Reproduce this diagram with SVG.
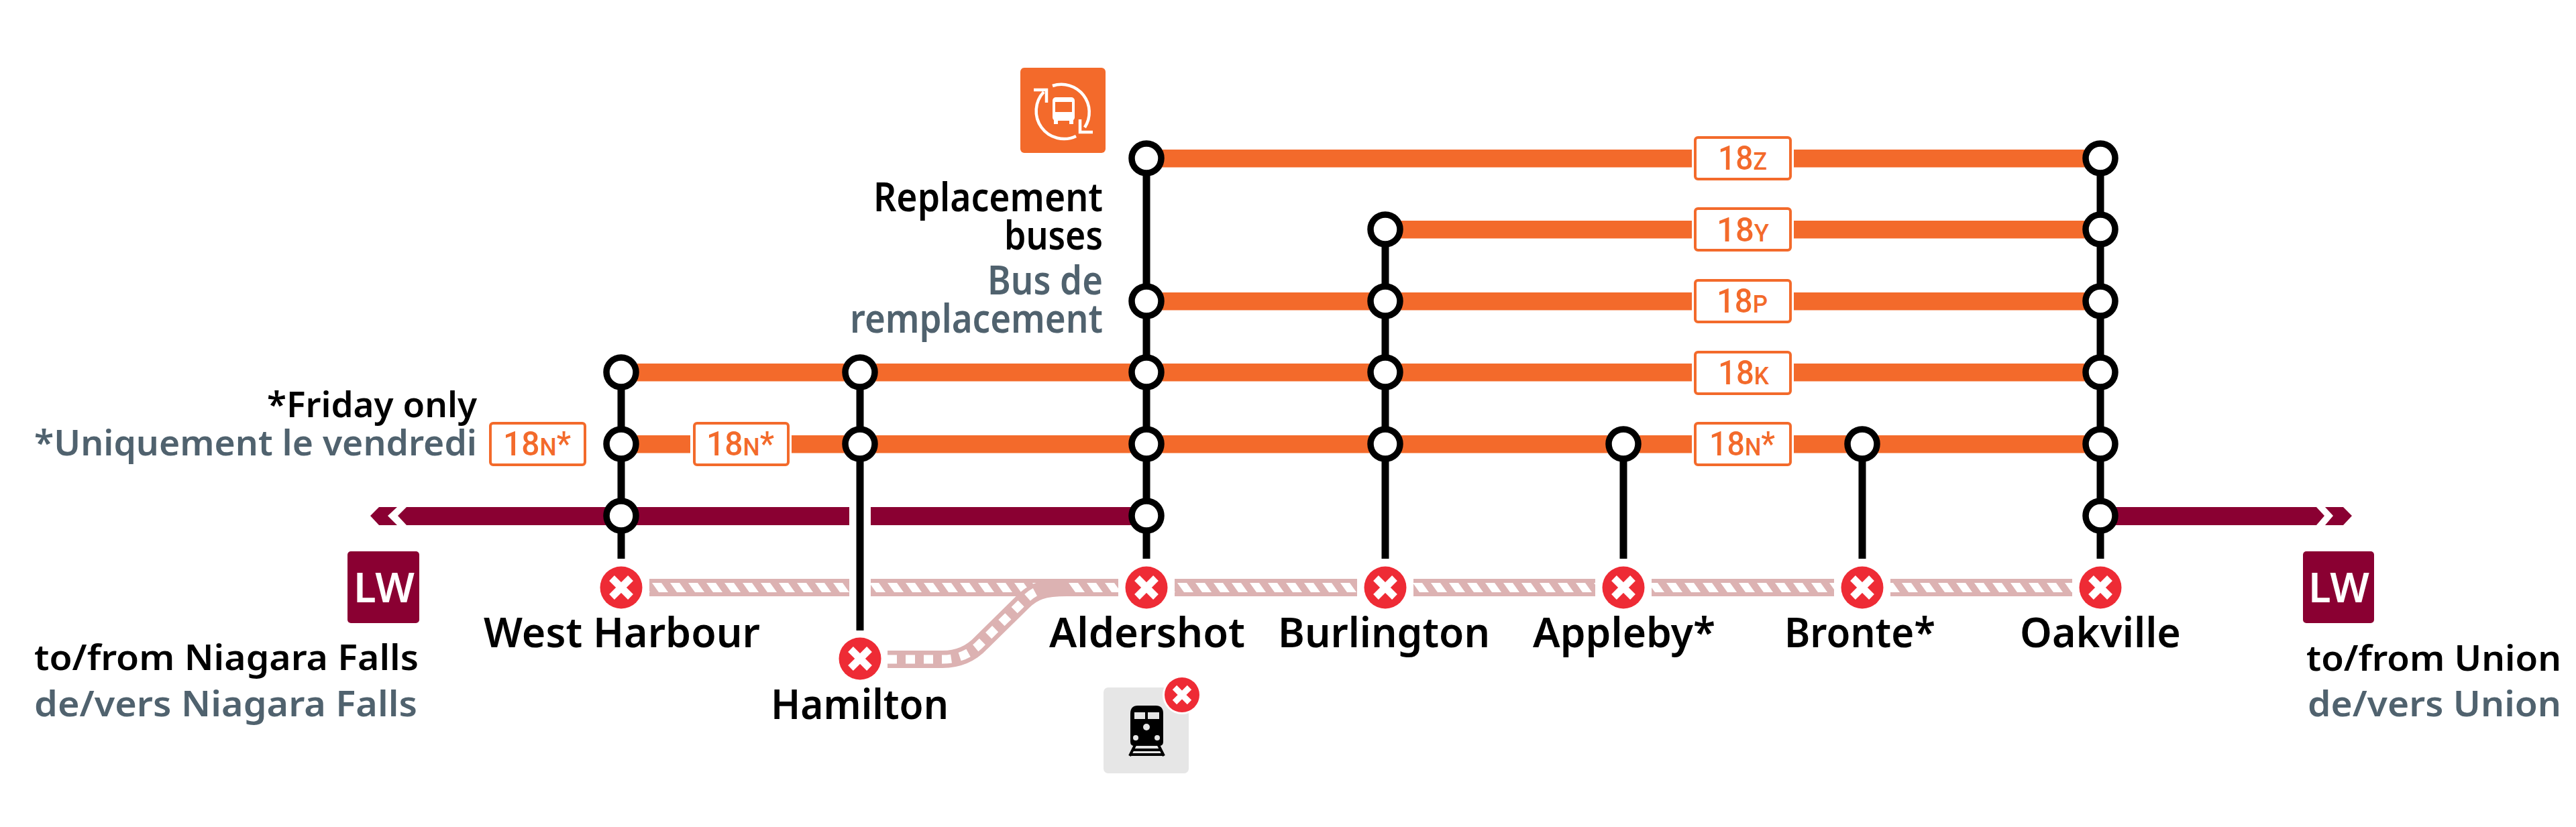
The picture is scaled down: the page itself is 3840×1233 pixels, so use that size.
<svg xmlns="http://www.w3.org/2000/svg" width="3840" height="1233" viewBox="0 0 3840 1233">
<style>
text{font-family:"Noto Sans","Liberation Sans",sans-serif;font-weight:600}
.k{fill:#000}.g{fill:#50626e}
.st{font-size:61px;fill:#000;text-anchor:start}
.sm{font-size:53px}
.rp{font-size:59px}
.rt{font-family:"Roboto","Liberation Sans",sans-serif;font-weight:500;font-size:50px;fill:#f36a2b}
.rt tspan{font-size:37px}
.lt{font-size:61px;fill:#fff;font-weight:600}
.o{fill:#f36a2b}.lw{fill:#8a0032}.tk{fill:#dcb2b2}.ht{fill:url(#hatch)}
.v{stroke:#000;stroke-width:11;fill:none}
.box{fill:#fff;stroke:#f36a2b;stroke-width:4}
.ico{fill:none;stroke:#fff;stroke-width:4.5}
</style>
<defs>
<pattern id="hatch" patternUnits="userSpaceOnUse" x="0" y="869" width="27" height="14"><polygon points="0,0 14,0 24,14 10,14" fill="#fff"/></pattern>
<g id="ring"><circle r="22" fill="#fff" stroke="#000" stroke-width="9.5"/></g>
<g id="stop"><circle r="35" fill="#fff"/><circle r="31.5" fill="#ee2b35"/><path d="M-14-14L14 14M14-14L-14 14" stroke="#fff" stroke-width="11" fill="none"/></g>
</defs>
<rect width="3840" height="1233" fill="#fff"/>
<g id="connectors">
<g id="rail-track">
<rect class="tk" x="968" y="863" width="298" height="26"/><rect class="ht" x="968" y="869" width="298" height="14"/>
<rect class="tk" x="1298" y="863" width="369" height="26"/><rect class="ht" x="1298" y="869" width="369" height="14"/>
<rect class="tk" x="1751" y="863" width="272" height="26"/><rect class="ht" x="1751" y="869" width="272" height="14"/>
<rect class="tk" x="2107" y="863" width="271" height="26"/><rect class="ht" x="2107" y="869" width="271" height="14"/>
<rect class="tk" x="2462" y="863" width="272" height="26"/><rect class="ht" x="2462" y="869" width="272" height="14"/>
<rect class="tk" x="2818" y="863" width="271" height="26"/><rect class="ht" x="2818" y="869" width="271" height="14"/>
<path d="M1323 983H1405C1432 983 1450 972 1463 958L1525 897C1540 882 1555 876 1590 876" fill="none" stroke="#dcb2b2" stroke-width="26"/>
<path d="M1323 983H1405C1432 983 1450 972 1463 958L1525 897C1535 887 1542 882 1552 879" fill="none" stroke="#fff" stroke-width="13" stroke-dasharray="14 13"/>
</g>
<g id="bus-lines" class="o">
<rect x="1709" y="223" width="813" height="26.5"/><rect x="2674" y="223" width="457" height="26.5"/>
<rect x="2065" y="329" width="457" height="26.5"/><rect x="2674" y="329" width="457" height="26.5"/>
<rect x="1709" y="436" width="813" height="26.5"/><rect x="2674" y="436" width="457" height="26.5"/>
<rect x="926" y="542" width="1596" height="26.5"/><rect x="2674" y="542" width="457" height="26.5"/>
<rect x="926" y="649" width="103" height="26.5"/><rect x="1180" y="649" width="1342" height="26.5"/><rect x="2674" y="649" width="457" height="26.5"/>
</g>
<g id="lw-line" class="lw">
<polygon points="552,769 565,756 592,756 578,769 592,783 565,783"/>
<polygon points="593,769 606,756 1266,756 1266,783 606,783"/>
<rect x="1298" y="756" width="411" height="27"/>
<polygon points="3131,756 3453,756 3465,769 3453,783 3131,783"/>
<polygon points="3466,756 3493,756 3506,769 3493,783 3466,783 3478,769"/>
</g>
<g id="verticals" class="v">
<path d="M926 555V833"/><path d="M1282 555V940"/><path d="M1709 236V833"/><path d="M2065 342V833"/><path d="M2420 662V833"/><path d="M2776 662V833"/><path d="M3131 236V833"/>
</g>
</g>
<g id="west-harbour"><use href="#ring" x="926" y="555"/><use href="#ring" x="926" y="662"/><use href="#ring" x="926" y="769"/><use href="#stop" x="926" y="876"/><text class="st" x="721" y="965" textLength="412" lengthAdjust="spacingAndGlyphs">West Harbour</text></g>
<g id="hamilton"><use href="#ring" x="1282" y="555"/><use href="#ring" x="1282" y="662"/><use href="#stop" x="1282" y="982"/><text class="st" x="1149" y="1072" textLength="265" lengthAdjust="spacingAndGlyphs">Hamilton</text></g>
<g id="aldershot"><use href="#ring" x="1709" y="236"/><use href="#ring" x="1709" y="449"/><use href="#ring" x="1709" y="555"/><use href="#ring" x="1709" y="662"/><use href="#ring" x="1709" y="769"/><use href="#stop" x="1709" y="876"/><text class="st" x="1564" y="965" textLength="292" lengthAdjust="spacingAndGlyphs">Aldershot</text></g>
<g id="burlington"><use href="#ring" x="2065" y="342"/><use href="#ring" x="2065" y="449"/><use href="#ring" x="2065" y="555"/><use href="#ring" x="2065" y="662"/><use href="#stop" x="2065" y="876"/><text class="st" x="1905" y="965" textLength="316" lengthAdjust="spacingAndGlyphs">Burlington</text></g>
<g id="appleby"><use href="#ring" x="2420" y="662"/><use href="#stop" x="2420" y="876"/><text class="st" x="2285" y="965" textLength="272" lengthAdjust="spacingAndGlyphs">Appleby*</text></g>
<g id="bronte"><use href="#ring" x="2776" y="662"/><use href="#stop" x="2776" y="876"/><text class="st" x="2660" y="965" textLength="225" lengthAdjust="spacingAndGlyphs">Bronte*</text></g>
<g id="oakville"><use href="#ring" x="3131" y="236"/><use href="#ring" x="3131" y="342"/><use href="#ring" x="3131" y="449"/><use href="#ring" x="3131" y="555"/><use href="#ring" x="3131" y="662"/><use href="#ring" x="3131" y="769"/><use href="#stop" x="3131" y="876"/><text class="st" x="3011" y="965" textLength="240" lengthAdjust="spacingAndGlyphs">Oakville</text></g>
<g id="route-18z"><rect class="box" x="2527" y="205" width="142" height="62" rx="4"/><text class="rt" x="2561" y="253" textLength="73" lengthAdjust="spacingAndGlyphs">18<tspan>Z</tspan></text></g>
<g id="route-18y"><rect class="box" x="2527" y="311" width="142" height="62" rx="4"/><text class="rt" x="2559" y="360" textLength="78" lengthAdjust="spacingAndGlyphs">18<tspan>Y</tspan></text></g>
<g id="route-18p"><rect class="box" x="2527" y="418" width="142" height="62" rx="4"/><text class="rt" x="2559" y="466" textLength="76" lengthAdjust="spacingAndGlyphs">18<tspan>P</tspan></text></g>
<g id="route-18k"><rect class="box" x="2527" y="525" width="142" height="62" rx="4"/><text class="rt" x="2561" y="573" textLength="76" lengthAdjust="spacingAndGlyphs">18<tspan>K</tspan></text></g>
<g id="route-18n-east"><rect class="box" x="2527" y="631" width="142" height="62" rx="4"/><text class="rt" x="2548" y="679" textLength="98" lengthAdjust="spacingAndGlyphs">18<tspan>N</tspan>*</text></g>
<g id="route-18n-west"><rect class="box" x="1035" y="631" width="140" height="62" rx="4"/><text class="rt" x="1053" y="679" textLength="101" lengthAdjust="spacingAndGlyphs">18<tspan>N</tspan>*</text></g>
<g id="route-18n-legend"><rect class="box" x="731" y="631" width="141" height="62" rx="4"/><text class="rt" x="750" y="679" textLength="101" lengthAdjust="spacingAndGlyphs">18<tspan>N</tspan>*</text></g>
<g id="friday-note"><text class="k sm" x="398" y="622" textLength="313" lengthAdjust="spacingAndGlyphs">*Friday only</text><text class="g sm" x="51" y="679" textLength="660" lengthAdjust="spacingAndGlyphs">*Uniquement le vendredi</text></g>
<g id="replacement-label"><text class="k rp" x="1302" y="315" textLength="342" lengthAdjust="spacingAndGlyphs">Replacement</text><text class="k rp" x="1497" y="372" textLength="147" lengthAdjust="spacingAndGlyphs">buses</text><text class="g rp" x="1472" y="439" textLength="172" lengthAdjust="spacingAndGlyphs">Bus de</text><text class="g rp" x="1267" y="496" textLength="377" lengthAdjust="spacingAndGlyphs">remplacement</text></g>
<g id="bus-icon"><rect class="o" x="1521" y="101" width="127" height="127" rx="6"/>
<path class="ico" d="M1604 203A41.5 41.5 0 0 1 1556 137"/><path class="ico" d="M1569 128A41.5 41.5 0 0 1 1617 190"/><path class="ico" d="M1541 134H1560V153"/><path class="ico" d="M1610 178V197H1629"/>
<rect x="1569" y="145" width="33" height="35" rx="5" fill="#fff"/><rect x="1573" y="152" width="25" height="15" class="o"/><rect x="1571" y="178" width="6" height="7" fill="#fff"/><rect x="1594" y="178" width="6" height="7" fill="#fff"/></g>
<g id="lw-west"><rect class="lw" x="518" y="822" width="107" height="107" rx="5"/><text class="lt" x="527" y="898" textLength="91" lengthAdjust="spacingAndGlyphs">LW</text><text class="k sm" x="51" y="999" textLength="573" lengthAdjust="spacingAndGlyphs">to/from Niagara Falls</text><text class="g sm" x="51" y="1068" textLength="571" lengthAdjust="spacingAndGlyphs">de/vers Niagara Falls</text></g>
<g id="lw-east"><rect class="lw" x="3433" y="822" width="106" height="107" rx="5"/><text class="lt" x="3441" y="898" textLength="91" lengthAdjust="spacingAndGlyphs">LW</text><text class="k sm" x="3438" y="1000" textLength="380" lengthAdjust="spacingAndGlyphs">to/from Union</text><text class="g sm" x="3440" y="1068" textLength="378" lengthAdjust="spacingAndGlyphs">de/vers Union</text></g>
<g id="train-icon"><rect x="1645" y="1025" width="127" height="128" rx="7" fill="#e6e6e6"/>
<path d="M1696 1052H1723Q1734 1052 1734 1064V1106Q1734 1112 1728 1112H1691Q1685 1112 1685 1106V1064Q1685 1052 1696 1052Z" fill="#000"/>
<rect x="1691" y="1062" width="16" height="10" fill="#e6e6e6"/><rect x="1711" y="1062" width="17" height="10" fill="#e6e6e6"/>
<circle cx="1709" cy="1084" r="5" fill="#e6e6e6"/><circle cx="1693" cy="1100" r="4" fill="#e6e6e6"/><circle cx="1725" cy="1100" r="4" fill="#e6e6e6"/>
<path d="M1692 1111L1684 1127M1727 1111L1735 1127M1690 1118H1729M1686 1125H1733" stroke="#000" stroke-width="4" fill="none"/>
<circle cx="1762" cy="1036" r="29" fill="#fff"/><circle cx="1762" cy="1036" r="26" fill="#ee2b35"/><path d="M1751 1025L1773 1047M1773 1025L1751 1047" stroke="#fff" stroke-width="9" fill="none"/></g>
</svg>
